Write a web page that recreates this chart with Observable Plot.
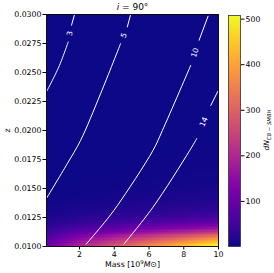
<!DOCTYPE html>
<html>
<head>
<meta charset="utf-8">
<script src="https://cdn.jsdelivr.net/npm/d3@7"></script>
<script src="https://cdn.jsdelivr.net/npm/@observablehq/plot@0.6"></script>
<style>
  html, body { margin: 0; padding: 0; background: #fff; }
  #wrap { position: relative; width: 274px; height: 273px; overflow: hidden; }
  #wrap svg { position: absolute; top: 0; }
</style>
</head>
<body>
<div id="wrap"></div>
<script>
// ---- data ----
const massTicks = [2, 4, 6, 8, 10];
const zTicks = [0.0100, 0.0125, 0.0150, 0.0175, 0.0200, 0.0225, 0.0250, 0.0275, 0.0300];
const colorTicks = [100, 200, 300, 400, 500];

// heat-map samples: columns = mass, rows = redshift z
const massCols = [0.1, 2, 4, 6, 8, 10];
const zRows = [0.0100, 0.0105, 0.0110, 0.0115, 0.0120, 0.0125, 0.0130, 0.0140, 0.0150, 0.0165, 0.0180, 0.0200, 0.0230, 0.0260, 0.0300];
const dN = [
  [100, 190, 270, 350, 425, 505],
  [77, 146, 208, 270, 327, 389],
  [53, 101, 143, 186, 225, 268],
  [32, 61, 86, 112, 136, 162],
  [18, 34, 49, 63, 77, 91],
  [10, 20, 28, 36, 44, 52],
  [6.3, 12, 17, 22, 27, 32],
  [3, 5.7, 8.1, 10.5, 12.8, 15],
  [1.6, 3, 4.3, 5.6, 6.8, 8],
  [1, 1.9, 2.7, 3.5, 4.3, 5],
  [1, 1.3, 1.9, 2.5, 3, 3.5],
  [1, 1, 1.4, 1.8, 2.1, 2.5],
  [1, 1, 1, 1.3, 1.5, 1.8],
  [1, 1, 1, 1, 1.1, 1.3],
  [1, 1, 1, 1, 1, 1]
];
const colorDomain = [1, 508];

// contour lines (mass, z), split where the label sits
const contourLevels = [3, 3, 5, 5, 10, 10, 14, 14];
const contourPaths = [
  [[1.713, 0.0300], [1.540, 0.02908]],
  [[1.350, 0.02763], [0.807, 0.02547], [0.12, 0.0234]],
  [[4.942, 0.0300], [4.752, 0.02893]],
  [[4.364, 0.02749], [3.212, 0.02317], [2.059, 0.01914], [1.292, 0.01713], [0.12, 0.0142]],
  [[9.400, 0.02985], [8.881, 0.02778]],
  [[8.403, 0.02562], [6.770, 0.02000], [6.228, 0.01828], [4.175, 0.01352], [3.443, 0.01208], [2.388, 0.01021]],
  [[9.97, 0.0234], [9.556, 0.02216]],
  [[8.749, 0.01931], [8.345, 0.01828], [6.211, 0.01335], [4.556, 0.01021]]
];
const labelText = ["3", "5", "10", "14"];
const labelMass = [1.442, 4.556, 8.645, 9.152];
const labelZ = [0.02836, 0.02821, 0.0267, 0.02074];
const labelAngle = [-79, -68, -72, -67];

// ---- helpers ----
function locate(arr, v) {
  if (v <= arr[0]) return [0, 0];
  for (let i = 0; i < arr.length - 1; i++) {
    if (v <= arr[i + 1]) return [i, (v - arr[i]) / (arr[i + 1] - arr[i])];
  }
  return [arr.length - 2, 1];
}
function heat(M, z) {
  const zq = 0.01 + Math.floor((z - 0.01) / 0.00025 + 1e-9) * 0.00025; // mesh rows
  const [j, u] = locate(zRows, zq);
  const [i, t] = locate(massCols, M);
  const a = dN[j][i] * (1 - t) + dN[j][i + 1] * t;
  const b = dN[j + 1][i] * (1 - t) + dN[j + 1][i + 1] * t;
  return a * (1 - u) + b * u;
}

const lineData = contourPaths.flatMap((p, k) => p.map(([M, z]) => ({M, z, k, level: contourLevels[k]})));
const labels = labelText.map((t, i) => ({t, M: labelMass[i], z: labelZ[i], a: labelAngle[i]}));

const colorOpts = {type: "linear", scheme: "plasma", domain: colorDomain, clamp: true};
const FONT = "DejaVu Sans";

const main = Plot.plot({
  width: 226, height: 273,
  marginLeft: 46, marginRight: 8, marginTop: 14, marginBottom: 27,
  style: {fontFamily: FONT, fontSize: "7.8px", color: "#000", background: "transparent"},
  x: {domain: [0.1, 10]},
  y: {domain: [0.01, 0.03]},
  color: colorOpts,
  marks: [
    Plot.raster({x1: 0.1, x2: 10, y1: 0.01, y2: 0.03, fill: heat, pixelSize: 1}),
    Plot.line(lineData, {x: "M", y: "z", z: "k", stroke: "#fff", strokeWidth: 1, curve: "catmull-rom"}),
    ...labels.map(l => Plot.text([l], {x: "M", y: "z", text: "t", rotate: l.a, fill: "#fff", fontSize: 7.5})),
    Plot.frame({stroke: "#000", strokeWidth: 0.9}),
    Plot.axisX({ticks: massTicks, tickSize: 3.5, tickPadding: 1.5, label: null, tickFormat: d => String(d)}),
    Plot.axisY({ticks: zTicks, tickSize: 3.5, tickPadding: 1.5, label: null, tickFormat: d => d.toFixed(4)}),
    Plot.text([0], {frameAnchor: "top", dy: -7, lineAnchor: "middle", textAnchor: "middle", text: () => "TITLE", fontSize: 9}),
    Plot.text([0], {frameAnchor: "bottom", dy: 17.5, lineAnchor: "middle", textAnchor: "middle", text: () => "XLABEL", fontSize: 7.8}),
    Plot.text([0], {frameAnchor: "left", dx: -39, rotate: -90, lineAnchor: "middle", textAnchor: "middle", text: () => "z", fontSize: 7.8})
  ]
});

const cbar = Plot.plot({
  width: 48, height: 273,
  marginLeft: 2, marginRight: 34, marginTop: 15, marginBottom: 27,
  style: {fontFamily: FONT, fontSize: "7.8px", color: "#000", background: "transparent"},
  x: {domain: [0, 1], axis: null},
  y: {domain: colorDomain, axis: null},
  color: colorOpts,
  marks: [
    Plot.raster({x1: 0, x2: 1, y1: colorDomain[0], y2: colorDomain[1], fill: (x, y) => y, pixelSize: 1}),
    Plot.frame({stroke: "#333", strokeWidth: 0.8}),
    Plot.axisY({anchor: "right", ticks: colorTicks, tickSize: 3.5, tickPadding: 1.5, label: null}),
    Plot.text([0], {frameAnchor: "right", dx: 26, dy: -1, rotate: -90, lineAnchor: "middle", textAnchor: "middle", text: () => "CBLABEL", fontSize: 7.5})
  ]
});

const wrap = document.getElementById("wrap");
main.style.left = "0px";
cbar.style.left = "226px";
wrap.appendChild(main);
wrap.appendChild(cbar);

// rich text (italics, super/subscripts)
d3.selectAll("#wrap text").each(function () {
  const s = this.textContent;
  if (s === "TITLE") {
    this.textContent = "";
    const el = d3.select(this);
    el.append("tspan").attr("font-style", "italic").text("i");
    el.append("tspan").text(" = 90°");
  } else if (s === "XLABEL") {
    this.textContent = "";
    const el = d3.select(this);
    el.append("tspan").text("Mass [10");
    el.append("tspan").attr("font-size", "5.5px").attr("dy", "-3").text("9");
    el.append("tspan").attr("font-style", "italic").attr("dy", "3").text("M");
    el.append("tspan").text("⊙]");
  } else if (s === "CBLABEL") {
    this.textContent = "";
    const el = d3.select(this);
    el.append("tspan").attr("font-style", "italic").text("dN");
    el.append("tspan").attr("font-style", "italic").attr("font-size", "5.3px").attr("dy", "2").text("CB − SMBH");
  }
});
</script>
</body>
</html>
